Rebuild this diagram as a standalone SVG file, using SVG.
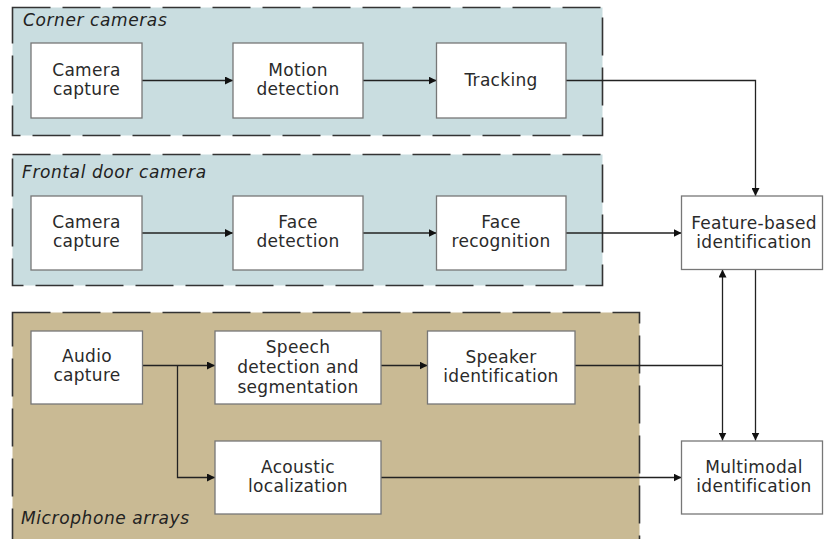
<svg xmlns="http://www.w3.org/2000/svg" width="824" height="539" viewBox="0 0 824 539">
<defs>
<style>
.grp{stroke:#333;stroke-width:1.6;stroke-dasharray:38 12}
.blue{fill:#c9dde0}
.tan{fill:#c9ba94}
.box{fill:#fff;stroke:#777;stroke-width:1.3}
.t{font-family:"DejaVu Sans",Verdana,sans-serif;font-size:17px;letter-spacing:0.3px;fill:#2a2a2a;text-anchor:middle}
.lbl{font-family:"DejaVu Sans",Verdana,sans-serif;font-size:17px;font-style:italic;letter-spacing:0.6px;fill:#222}
.c{fill:none;stroke:#222;stroke-width:1.3}
</style>
<marker id="ah" viewBox="0 0 10 10" refX="10" refY="5" markerWidth="8" markerHeight="8" markerUnits="userSpaceOnUse" orient="auto">
<path d="M0,0 L10,5 L0,10 z" fill="#111"/>
</marker>
</defs>
<rect width="824" height="539" fill="#fff"/>

<g id="group-corner">
<rect x="12.5" y="7.5" width="590" height="128" class="blue"/>
<rect x="12.5" y="7.5" width="590" height="128" fill="none" class="grp"/>
<text x="23" y="26" class="lbl">Corner cameras</text>
</g>
<g id="group-frontal">
<rect x="12.5" y="154.5" width="590" height="131" class="blue"/>
<rect x="12.5" y="154.5" width="590" height="131" fill="none" class="grp"/>
<text x="22" y="178" class="lbl">Frontal door camera</text>
</g>
<g id="group-mic">
<rect x="12.5" y="312.5" width="627" height="240" class="tan"/>
<rect x="12.5" y="312.5" width="627" height="240" fill="none" class="grp"/>
<text x="21" y="524" class="lbl">Microphone arrays</text>
</g>

<g id="connectors">
<line x1="142" y1="80.5" x2="233" y2="80.5" class="c" marker-end="url(#ah)"/>
<line x1="363" y1="80.5" x2="436.5" y2="80.5" class="c" marker-end="url(#ah)"/>
<polyline points="566,80.5 755.5,80.5 755.5,196" class="c" marker-end="url(#ah)"/>
<line x1="142" y1="233" x2="233" y2="233" class="c" marker-end="url(#ah)"/>
<line x1="363" y1="233" x2="436.5" y2="233" class="c" marker-end="url(#ah)"/>
<line x1="566" y1="233" x2="681.5" y2="233" class="c" marker-end="url(#ah)"/>
<line x1="142.5" y1="365.5" x2="215" y2="365.5" class="c" marker-end="url(#ah)"/>
<polyline points="177.5,365.5 177.5,477.5 215,477.5" class="c" marker-end="url(#ah)"/>
<line x1="381" y1="365.5" x2="427.5" y2="365.5" class="c" marker-end="url(#ah)"/>
<line x1="575" y1="365.5" x2="722.5" y2="365.5" class="c"/>
<line x1="722.5" y1="365.5" x2="722.5" y2="269.5" class="c" marker-end="url(#ah)"/>
<line x1="722.5" y1="365.5" x2="722.5" y2="440.5" class="c" marker-end="url(#ah)"/>
<line x1="755.5" y1="269.5" x2="755.5" y2="440.5" class="c" marker-end="url(#ah)"/>
<line x1="381" y1="477.5" x2="681.5" y2="477.5" class="c" marker-end="url(#ah)"/>
</g>

<g id="n-cam1">
<rect x="31" y="43" width="111" height="75" class="box"/>
<text x="86.5" y="76" class="t">Camera</text>
<text x="86.5" y="95" class="t">capture</text>
</g>
<g id="n-motion">
<rect x="233" y="43" width="130" height="75" class="box"/>
<text x="298" y="76" class="t">Motion</text>
<text x="298" y="95" class="t">detection</text>
</g>
<g id="n-tracking">
<rect x="436.5" y="43" width="129.5" height="75" class="box"/>
<text x="501" y="86" class="t">Tracking</text>
</g>
<g id="n-cam2">
<rect x="31" y="196" width="111" height="74" class="box"/>
<text x="86.5" y="228" class="t">Camera</text>
<text x="86.5" y="247" class="t">capture</text>
</g>
<g id="n-facedet">
<rect x="233" y="196" width="130" height="74" class="box"/>
<text x="298" y="228" class="t">Face</text>
<text x="298" y="247" class="t">detection</text>
</g>
<g id="n-facerec">
<rect x="436.5" y="196" width="129.5" height="74" class="box"/>
<text x="501" y="228" class="t">Face</text>
<text x="501" y="247" class="t">recognition</text>
</g>
<g id="n-feature">
<rect x="681.5" y="196" width="141" height="73.5" class="box"/>
<text x="754" y="229" class="t">Feature-based</text>
<text x="754" y="248" class="t">identification</text>
</g>
<g id="n-audio">
<rect x="31" y="331" width="111.5" height="73" class="box"/>
<text x="87" y="362" class="t">Audio</text>
<text x="87" y="381" class="t">capture</text>
</g>
<g id="n-speech">
<rect x="215" y="331" width="166" height="73" class="box"/>
<text x="298" y="353" class="t">Speech</text>
<text x="298" y="373" class="t">detection and</text>
<text x="298" y="393" class="t">segmentation</text>
</g>
<g id="n-speaker">
<rect x="427.5" y="331" width="147.5" height="73" class="box"/>
<text x="501" y="363" class="t">Speaker</text>
<text x="501" y="382" class="t">identification</text>
</g>
<g id="n-acoustic">
<rect x="215" y="441" width="166" height="73" class="box"/>
<text x="298" y="473" class="t">Acoustic</text>
<text x="298" y="492" class="t">localization</text>
</g>
<g id="n-multimodal">
<rect x="681.5" y="441" width="141" height="73" class="box"/>
<text x="754" y="473" class="t">Multimodal</text>
<text x="754" y="492" class="t">identification</text>
</g>
</svg>
